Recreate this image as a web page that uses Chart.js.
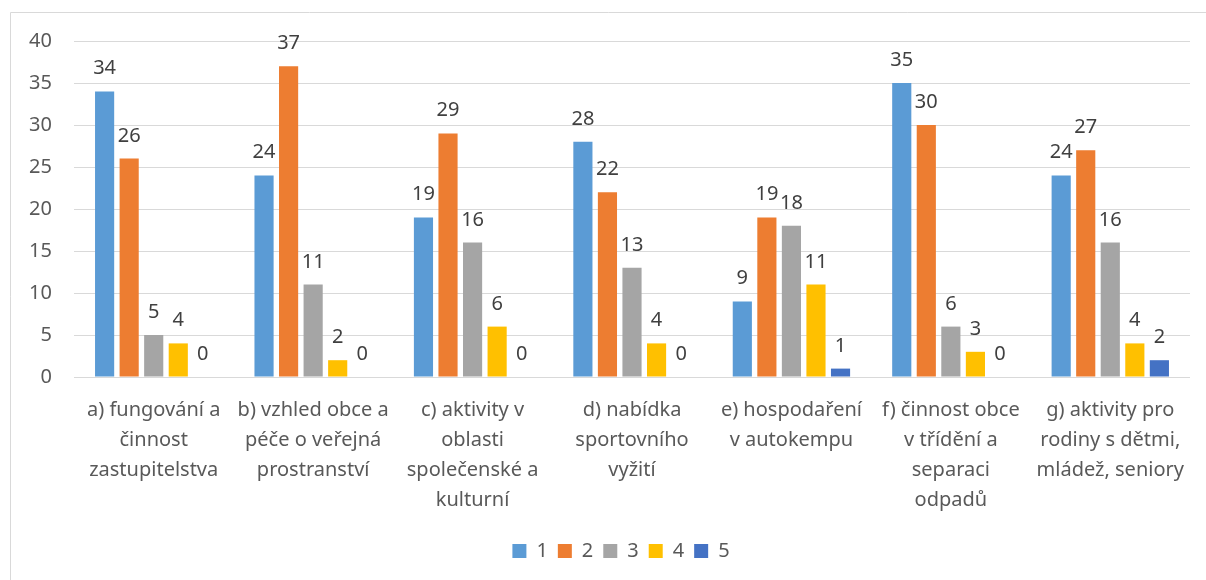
<!DOCTYPE html>
<html>
<head>
<meta charset="utf-8">
<script src="https://cdn.jsdelivr.net/npm/chart.js@4/dist/chart.umd.min.js"></script>
<style>
html, body { margin: 0; padding: 0; background: #fff; }
#wrap { position: relative; width: 1206px; height: 580px; }
</style>
</head>
<body>
<div id="wrap"><canvas id="c"></canvas></div>
<script>
// categories (multi-line labels as in the original)
const categories = [
    ['a) fungování a', 'činnost', 'zastupitelstva'],
    ['b) vzhled obce a', 'péče o veřejná', 'prostranství'],
    ['c) aktivity v', 'oblasti', 'společenské a', 'kulturní'],
    ['d) nabídka', 'sportovního', 'vyžití'],
    ['e) hospodaření', 'v autokempu'],
    ['f) činnost obce', 'v třídění a', 'separaci', 'odpadů'],
    ['g) aktivity pro', 'rodiny s dětmi,', 'mládež, seniory']
];

const seriesNames = ['1', '2', '3', '4', '5'];
const series1 = [34, 24, 19, 28, 9, 35, 24];
const series2 = [26, 37, 29, 22, 19, 30, 27];
const series3 = [5, 11, 16, 13, 18, 6, 16];
const series4 = [4, 2, 6, 4, 11, 3, 4];
const series5 = [0, 0, 0, 0, 1, 0, 2];
const seriesColors = ['#5B9BD5', '#ED7D31', '#A5A5A5', '#FFC000', '#4472C4'];

const yMin = 0;
const yMax = 40;
const yStep = 5;

const FONT = '"Noto Sans", sans-serif';
const TEXT = '#595959';

// rámeček grafu (jen horní a levá hrana jsou vidět)
const framePlugin = {
    id: 'frame',
    beforeDraw(chart) {
        const ctx = chart.ctx;
        ctx.save();
        ctx.strokeStyle = '#d9d9d9';
        ctx.lineWidth = 1;
        ctx.beginPath();
        ctx.moveTo(10.5, 600);
        ctx.lineTo(10.5, 12.5);
        ctx.lineTo(1220, 12.5);
        ctx.stroke();
        ctx.restore();
    },
    // legenda je v originále trochu posunutá doprava
    afterLayout(chart) {
        if (chart.legend) {
            chart.legend.left += 21;
            chart.legend.right += 21;
        }
    }
};

// popisky hodnot nad sloupci
const barLabels = {
    id: 'barLabels',
    afterDatasetsDraw(chart) {
        const ctx = chart.ctx;
        ctx.save();
        ctx.font = '20px ' + FONT;
        ctx.fillStyle = '#404040';
        ctx.textAlign = 'center';
        ctx.textBaseline = 'alphabetic';
        chart.data.datasets.forEach((ds, i) => {
            chart.getDatasetMeta(i).data.forEach((bar, j) => {
                ctx.fillText(String(ds.data[j]), bar.x, bar.y - 17);
            });
        });
        ctx.restore();
    }
};

const allSeries = [series1, series2, series3, series4, series5];

new Chart(document.getElementById('c'), {
    type: 'bar',
    data: {
        labels: categories,
        datasets: allSeries.map((vals, i) => ({
            label: seriesNames[i],
            data: vals,
            backgroundColor: seriesColors[i],
            borderWidth: 0,
            categoryPercentage: 0.77,
            barPercentage: 0.78
        }))
    },
    options: {
        responsive: true,
        maintainAspectRatio: false,
        animation: false,
        layout: {
            padding: { left: 10, top: 41, right: 16, bottom: 9 }
        },
        plugins: {
            legend: {
                position: 'bottom',
                labels: {
                    boxWidth: 14,
                    boxHeight: 14,
                    padding: 10,
                    color: TEXT,
                    font: { family: FONT, size: 20 }
                }
            },
            tooltip: { enabled: false }
        },
        scales: {
            x: {
                grid: { display: false },
                border: { display: false },
                ticks: {
                    color: TEXT,
                    padding: 10,
                    maxRotation: 0,
                    autoSkip: false,
                    font: { family: FONT, size: 20, lineHeight: 1.5 }
                },
                afterFit: (scale) => { scale.height = 154; }
            },
            y: {
                min: yMin,
                max: yMax,
                border: { display: false },
                grid: { color: '#d9d9d9', lineWidth: 1, drawTicks: false },
                ticks: {
                    stepSize: yStep,
                    color: TEXT,
                    padding: 22,
                    font: { family: FONT, size: 20 }
                },
                afterFit: (scale) => { scale.width = 64; }
            }
        }
    },
    plugins: [framePlugin, barLabels]
});
</script>
</body>
</html>
